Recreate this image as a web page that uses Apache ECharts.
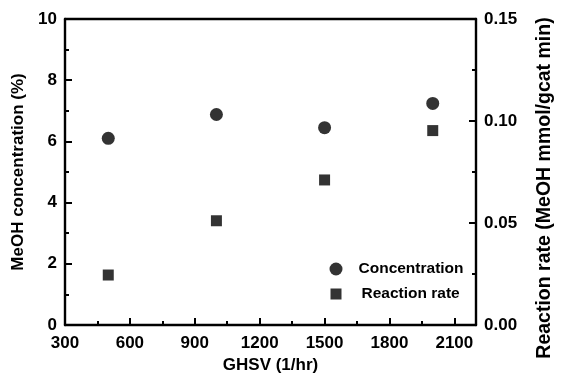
<!DOCTYPE html>
<html>
<head>
<meta charset="utf-8">
<script src="https://cdn.jsdelivr.net/npm/echarts@6/dist/echarts.min.js"></script>
<style>
html,body{margin:0;padding:0;background:#fff;}
#chart{width:563px;height:385px;}
</style>
</head>
<body>
<div id="chart"></div>
<script>
const ghsv = [500, 1000, 1500, 2000];
const concentration = [6.10, 6.88, 6.45, 7.24];
const reactionRate = [0.0245, 0.0511, 0.0711, 0.0953];
const xTitle = 'GHSV (1/hr)';
const yLeftTitle = 'MeOH concentration (%)';
const yRightTitle = 'Reaction rate (MeOH mmol/gcat min)';
const seriesNames = ['Concentration', 'Reaction rate'];

const FONT = '"Liberation Sans", Arial, sans-serif';
const lbl = {color:'#000', fontFamily:FONT, fontWeight:'bold', fontSize:17};
const axLine = {show:true, onZero:false, lineStyle:{color:'#000', width:2.4}};
const majTick = {show:true, inside:true, length:7, lineStyle:{color:'#000', width:2}};
const minTick = {show:true, splitNumber:2, length:4, lineStyle:{color:'#000', width:2}};

const chart = echarts.init(document.getElementById('chart'), null, {renderer:'canvas'});
chart.setOption({
  animation:false,
  backgroundColor:'#fff',
  grid:{left:65, top:19, width:413, height:306, show:false},
  legend:[
    {data:[{name:seriesNames[0], icon:'circle'}], orient:'vertical', left:324.5, top:256, itemWidth:13, itemHeight:13,
     textStyle:Object.assign({}, lbl, {fontSize:15.5, padding:[0,0,0,11]})},
    {data:[{name:seriesNames[1], icon:'rect'}], orient:'vertical', left:325.5, top:281, itemWidth:11, itemHeight:11,
     textStyle:Object.assign({}, lbl, {fontSize:15.5, padding:[0,0,0,15]})}
  ],
  xAxis:[
    {type:'value', min:300, max:2200, interval:300, position:'bottom',
     name:xTitle, nameLocation:'middle', nameGap:32, nameTextStyle:lbl,
     axisLine:axLine, axisTick:majTick,
     axisLabel:Object.assign({}, lbl, {margin:10, showMaxLabel:false, formatter:v=>String(v)}), splitLine:{show:false}},
    {type:'value', min:300, max:2200, interval:150, position:'bottom',
     axisLine:{show:false, onZero:false}, axisTick:{show:true, inside:true, length:4, lineStyle:{color:'#000', width:2}},
     axisLabel:{show:false}, splitLine:{show:false}},
    {type:'value', min:300, max:2200, position:'top',
     axisLine:axLine, axisTick:{show:false}, axisLabel:{show:false}, splitLine:{show:false}}
  ],
  yAxis:[
    {type:'value', min:0, max:10, interval:2, position:'left',
     name:yLeftTitle, nameLocation:'middle', nameGap:36, nameTextStyle:lbl,
     axisLine:axLine, axisTick:majTick, minorTick:minTick,
     axisLabel:Object.assign({}, lbl, {margin:8}), splitLine:{show:false}},
    {type:'value', min:0, max:0.15, interval:0.05, position:'right',
     name:yRightTitle, nameLocation:'middle', nameGap:59,
     nameTextStyle:Object.assign({}, lbl, {fontSize:19.5, padding:[0,32,0,0]}),
     axisLine:axLine, axisTick:majTick, minorTick:minTick,
     axisLabel:Object.assign({}, lbl, {margin:8, formatter:v=>v.toFixed(2)}), splitLine:{show:false}}
  ],
  series:[
    {name:seriesNames[0], type:'scatter', xAxisIndex:0, yAxisIndex:0, symbol:'circle', symbolSize:13,
     itemStyle:{color:'#000'}, data:ghsv.map((x,i)=>[x, concentration[i]])},
    {name:seriesNames[1], type:'scatter', xAxisIndex:0, yAxisIndex:1, symbol:'rect', symbolSize:11,
     itemStyle:{color:'#000'}, data:ghsv.map((x,i)=>[x, reactionRate[i]])}
  ]
});
</script>
</body>
</html>
